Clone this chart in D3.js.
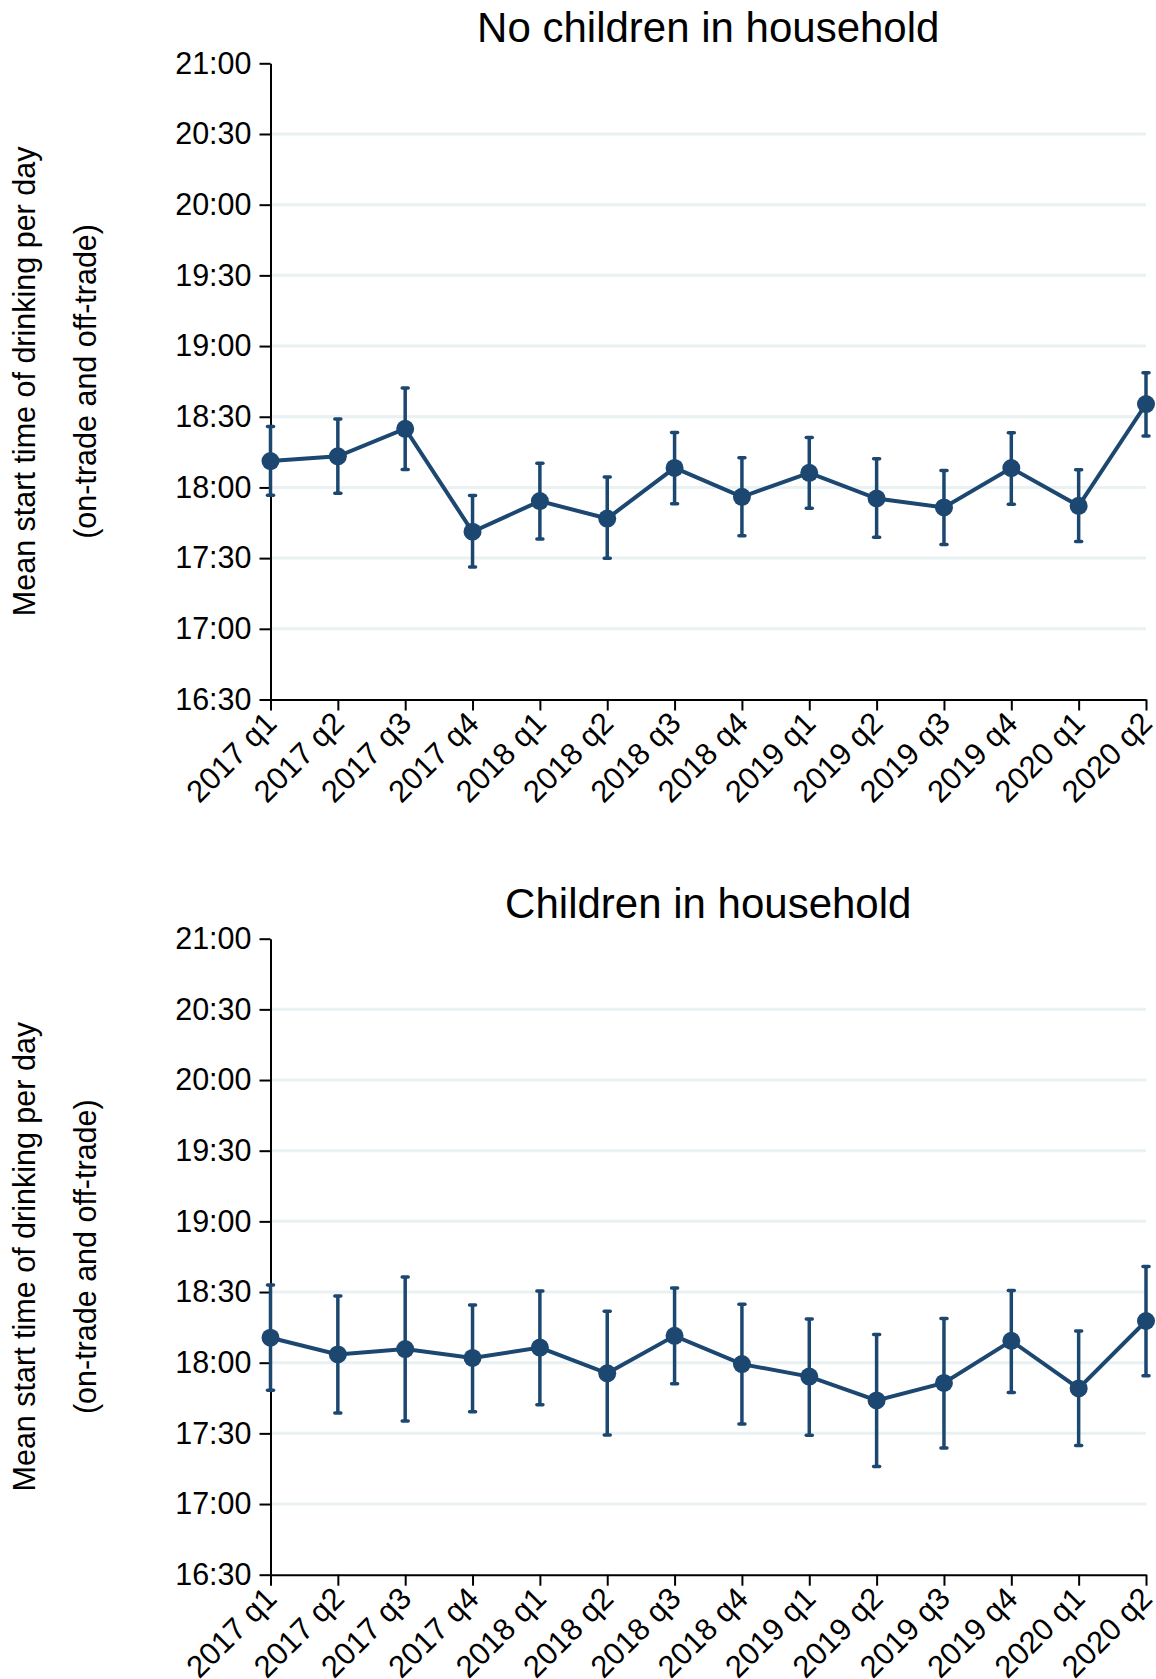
<!DOCTYPE html>
<html>
<head>
<meta charset="utf-8">
<script src="https://cdn.jsdelivr.net/npm/d3@7"></script>
<style>
  body { margin: 0; background: #fff; }
  text { font-family: "Liberation Sans", Arial, sans-serif; fill: #000; }
</style>
</head>
<body>
<div id="chart"></div>
<script>
var width = 1156,
    height = 1679;

// quarters on the x axis
var quarters = ["2017 q1", "2017 q2", "2017 q3", "2017 q4",
                "2018 q1", "2018 q2", "2018 q3", "2018 q4",
                "2019 q1", "2019 q2", "2019 q3", "2019 q4",
                "2020 q1", "2020 q2"];

// y ticks, minutes after midnight (16:30 .. 21:00)
var yTicks = [990, 1020, 1050, 1080, 1110, 1140, 1170, 1200, 1230, 1260];

// no children: mean start time and 95% CI (minutes after midnight)
var noKidsMean = [1091.2, 1093.2, 1104.9, 1061.2, 1074.2, 1066.8, 1088.3, 1076.0, 1086.2, 1075.3, 1071.5, 1088.2, 1072.2, 1115.4];
var noKidsLow  = [1076.7, 1077.5, 1087.6, 1046.2, 1058.1, 1049.9, 1073.1, 1059.5, 1071.2, 1058.9, 1055.8, 1072.9, 1057.1, 1101.8];
var noKidsHigh = [1105.9, 1109.0, 1122.2, 1076.6, 1090.3, 1084.4, 1103.3, 1092.6, 1101.2, 1092.2, 1087.2, 1103.2, 1087.5, 1128.7];

// children in household
var kidsMean = [1090.6, 1083.5, 1085.8, 1082.0, 1086.4, 1075.5, 1091.4, 1079.4, 1074.1, 1064.0, 1071.4, 1089.3, 1069.1, 1097.7];
var kidsLow  = [1068.3, 1058.6, 1055.3, 1059.2, 1062.2, 1049.3, 1071.1, 1054.0, 1049.2, 1035.9, 1043.8, 1067.3, 1044.8, 1074.5];
var kidsHigh = [1113.0, 1108.3, 1116.4, 1104.5, 1110.4, 1101.8, 1111.7, 1104.8, 1098.5, 1092.0, 1098.8, 1110.7, 1093.5, 1120.8];

var panels = [
  {title: "No children in household", mean: noKidsMean, low: noKidsLow, high: noKidsHigh, top: 63.3, bottom: 699.5, titleY: 41.5},
  {title: "Children in household", mean: kidsMean, low: kidsLow, high: kidsHigh, top: 938.7, bottom: 1574.7, titleY: 917.5}
];

var navy = "#1c4770",
    gridColor = "#e9f1f3";

var svg = d3.select("#chart")
    .append("svg")
    .attr("width", width)
    .attr("height", height);

var x = d3.scalePoint()
    .domain(quarters)
    .range([270.5, 1146]);

function fmtTime(m) {
  var h = Math.floor(m / 60), mm = m % 60;
  return h + ":" + (mm < 10 ? "0" : "") + mm;
}

panels.forEach(function(p) {
  var g = svg.append("g");

  var y = d3.scaleLinear()
      .domain([990, 1260])
      .range([p.bottom, p.top]);

  // gridlines
  g.append("g")
    .selectAll("line")
    .data(yTicks.filter(function(t) { return t > 990 && t < 1260; }))
    .enter().append("line")
      .attr("x1", x.range()[0])
      .attr("x2", x.range()[1])
      .attr("y1", function(d) { return y(d); })
      .attr("y2", function(d) { return y(d); })
      .style("stroke", gridColor)
      .style("stroke-width", 3);

  // y axis
  var yAxis = g.append("g")
      .attr("transform", "translate(" + x.range()[0] + ",0)")
      .call(d3.axisLeft(y).tickValues(yTicks).tickFormat(fmtTime).tickSize(11).tickSizeOuter(0).tickPadding(8));
  yAxis.selectAll("text").style("font-size", "30.5px");

  // x axis
  var xAxis = g.append("g")
      .attr("transform", "translate(0," + p.bottom + ")")
      .call(d3.axisBottom(x).tickSize(11).tickSizeOuter(0));
  xAxis.selectAll("text")
      .style("font-size", "31px")
      .style("text-anchor", "end")
      .attr("x", 0)
      .attr("y", 0)
      .attr("dy", "0.71em")
      .attr("transform", "translate(-8,10) rotate(-45)");

  [yAxis, xAxis].forEach(function(a) {
    a.select(".domain").style("stroke", "#000").style("stroke-width", 2);
    a.selectAll(".tick line").style("stroke", "#000").style("stroke-width", 2);
  });

  // error bars
  var bars = g.append("g").selectAll("g")
    .data(quarters)
    .enter().append("g");

  bars.append("line")
      .attr("x1", function(d) { return x(d); })
      .attr("x2", function(d) { return x(d); })
      .attr("y1", function(d, i) { return y(p.low[i]); })
      .attr("y2", function(d, i) { return y(p.high[i]); })
      .style("stroke", navy)
      .style("stroke-width", 3.5);

  ["low", "high"].forEach(function(k) {
    bars.append("line")
        .attr("x1", function(d) { return x(d) - 3; })
        .attr("x2", function(d) { return x(d) + 3; })
        .attr("y1", function(d, i) { return y(p[k][i]); })
        .attr("y2", function(d, i) { return y(p[k][i]); })
        .style("stroke", navy)
        .style("stroke-width", 3.5)
        .style("stroke-linecap", "round");
  });

  // connecting line
  var line = d3.line()
      .x(function(d, i) { return x(quarters[i]); })
      .y(function(d) { return y(d); });

  g.append("path")
      .datum(p.mean)
      .attr("d", line)
      .style("fill", "none")
      .style("stroke", navy)
      .style("stroke-width", 4);

  g.append("g").selectAll("circle")
    .data(p.mean)
    .enter().append("circle")
      .attr("cx", function(d, i) { return x(quarters[i]); })
      .attr("cy", function(d) { return y(d); })
      .attr("r", 9)
      .style("fill", navy);

  // title
  g.append("text")
      .attr("x", (x.range()[0] + x.range()[1]) / 2)
      .attr("y", p.titleY)
      .attr("text-anchor", "middle")
      .style("font-size", "42px")
      .text(p.title);

  // y axis title
  var cy = (p.top + p.bottom) / 2;
  g.append("text")
      .attr("transform", "translate(35," + cy + ") rotate(-90)")
      .attr("text-anchor", "middle")
      .style("font-size", "30.5px")
      .text("Mean start time of drinking per day");
  g.append("text")
      .attr("transform", "translate(96," + cy + ") rotate(-90)")
      .attr("text-anchor", "middle")
      .style("font-size", "30.5px")
      .text("(on-trade and off-trade)");
});
</script>
</body>
</html>
